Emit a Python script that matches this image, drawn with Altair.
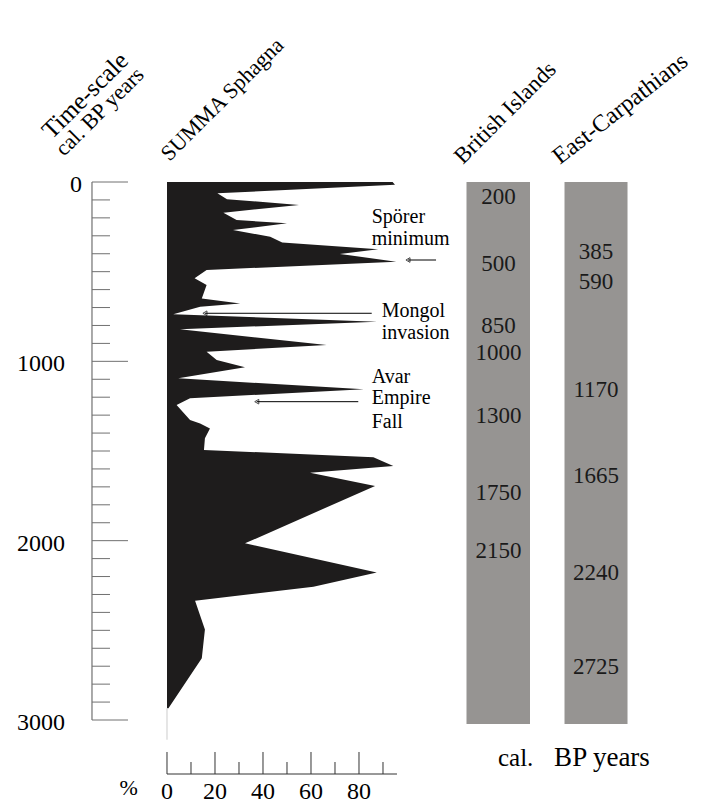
import altair as alt
import pandas as pd

# ---------------- data ----------------
sphagna_years = [0, 15, 63, 96, 128, 171, 212, 230, 268, 305, 338, 375, 401, 444, 491,
                 537, 574, 649, 677, 695, 738, 779, 821, 909, 946, 993, 1033, 1095,
                 1156, 1206, 1243, 1327, 1346, 1374, 1429, 1494, 1535, 1584, 1621,
                 1695, 2015, 2177, 2257, 2335, 2495, 2656, 2935]
sphagna_pct = [94, 95, 21, 25, 55, 23.5, 29, 50, 27.5, 43, 48, 88, 72, 95.5, 16.5,
               11.5, 16.5, 14.5, 30.5, 13.8, 2.6, 87.5, 5.4, 66.5, 16.5, 20.7, 32.5, 4.7,
               82, 9.6, 4, 9.6, 13.8, 17.9, 15.8, 15.4, 86, 94.3, 59.6,
               86.7, 32.5, 87.4, 61, 11.7, 15.8, 14.5, 0.6]

time_major = [0, 1000, 2000, 3000]
time_minor = [100, 200, 300, 400, 500, 600, 700, 800, 900,
              1100, 1200, 1300, 1400, 1500, 1600, 1700, 1800, 1900,
              2100, 2200, 2300, 2400, 2500, 2600, 2700, 2800, 2900]
time_labels = ["0", "1000", "2000", "3000"]

pct_major = [0, 20, 40, 60, 80]
pct_minor = [10, 30, 50, 70, 90]
pct_labels = ["0", "20", "40", "60", "80"]

british_labels = ["200", "500", "850", "1000", "1300", "1750", "2150"]
carpathian_labels = ["385", "590", "1170", "1665", "2240", "2725"]

headers = ["Time-scale", "cal. BP  years", "SUMMA Sphagna", "British Islands", "East-Carpathians"]
events = [["Spörer", "minimum"], ["Mongol", "invasion"], ["Avar", "Empire", "Fall"]]

# ---------------- layout ----------------
X0, X1 = -66.25, 220.4167
Y0, Y1 = -970.26, 3462.8
FONT = "Liberation Serif"
INK = "#1e1c1c"
GRAY = "#969492"

xs = alt.Scale(domain=[X0, X1], nice=False, zero=False)
ys = alt.Scale(domain=[Y0, Y1], nice=False, zero=False, reverse=True)


def X(f):
    return alt.X(f, type="quantitative", scale=xs, axis=None)


def Y(f):
    return alt.Y(f, type="quantitative", scale=ys, axis=None)


# area
area_df = pd.DataFrame({"year": sphagna_years, "pct": sphagna_pct})
area = alt.Chart(area_df).mark_area(orient="horizontal", color=INK, interpolate="linear").encode(
    y=Y("year"), x=X("pct"), x2=alt.datum(0)
)
tail = alt.Chart(pd.DataFrame({"x": [0], "y": [sphagna_years[-1]], "y2": [3110]})).mark_rule(
    color="#cccccc", strokeWidth=1
).encode(x=X("x"), y=Y("y"), y2="y2")

# time axis
AX = -31.25
axis_line = alt.Chart(pd.DataFrame({"x": [AX], "y": [0], "y2": [3000]})).mark_rule(
    color="#555555", strokeWidth=1
).encode(x=X("x"), y=Y("y"), y2="y2")
tick_df = pd.DataFrame(
    {"y": time_major + time_minor,
     "x": [AX] * (len(time_major) + len(time_minor)),
     "x2": [-16.25] * len(time_major) + [-23.75] * len(time_minor)}
)
ticks = alt.Chart(tick_df).mark_rule(color="#707070", strokeWidth=1).encode(
    y=Y("y"), x=X("x"), x2="x2"
)
tl_df = pd.DataFrame({"y": time_major, "t": time_labels,
                      "x": [-35.4 if s == "0" else -42.5 for s in time_labels]})
tlabels = alt.Chart(tl_df).mark_text(
    font=FONT, fontSize=24, align="right", baseline="middle", color="black", dy=3
).encode(y=Y("y"), x=X("x"), text="t")

# percent axis
PY = 3301.1
paxis = alt.Chart(pd.DataFrame({"x": [0], "x2": [95.83], "y": [PY]})).mark_rule(
    color="#333333", strokeWidth=1
).encode(x=X("x"), x2="x2", y=Y("y"))
ptick_df = pd.DataFrame(
    {"x": pct_major + pct_minor,
     "y": [3178.4] * len(pct_major) + [3234.2] * len(pct_minor),
     "y2": [PY] * (len(pct_major) + len(pct_minor))}
)
pticks = alt.Chart(ptick_df).mark_rule(color="#333333", strokeWidth=1).encode(
    x=X("x"), y=Y("y"), y2="y2"
)
plabels = alt.Chart(pd.DataFrame({"x": pct_major, "t": pct_labels, "y": [3441] * 5})).mark_text(
    font=FONT, fontSize=24, align="center", baseline="alphabetic", color="black"
).encode(x=X("x"), y=Y("y"), text="t")
percent = alt.Chart(pd.DataFrame({"x": [-16], "y": [3420], "t": ["%"]})).mark_text(
    font=FONT, fontSize=22, align="center", baseline="alphabetic", color="black"
).encode(x=X("x"), y=Y("y"), text="t")

# grey columns
bars_df = pd.DataFrame({"x": [124.79, 165.63], "x2": [151.25, 191.88], "y": [0, 0], "y2": [3022, 3022]})
bars = alt.Chart(bars_df).mark_rect(color=GRAY).encode(x=X("x"), x2="x2", y=Y("y"), y2="y2")

bl_df = pd.DataFrame({
    "t": british_labels + carpathian_labels,
    "x": [138.1] * len(british_labels) + [178.75] * len(carpathian_labels),
    "y": [84, 457, 803, 953, 1305, 1734, 2058, 390, 558, 1160, 1639, 2180, 2705],
})
blabels = alt.Chart(bl_df).mark_text(
    font=FONT, fontSize=23, align="center", baseline="middle", color="#1a1a1a"
).encode(x=X("x"), y=Y("y"), text="t")

bottom_df = pd.DataFrame({"t": ["cal.", "BP years"], "x": [137.9, 161.3],
                          "y": [3254, 3254], "fs": [25, 27]})
bottom = alt.Chart(bottom_df).mark_text(
    font=FONT, align="left", baseline="alphabetic", color="black"
).encode(x=X("x"), y=Y("y"), text="t", size=alt.Size("fs:Q", scale=None, legend=None))

# headers
hd_df = pd.DataFrame({"t": headers,
                      "x": [-48, -42.9, 1.0, 123.3, 163.8],
                      "y": [-234, -139, -111.5, -94.8, -94.8],
                      "fs": [25, 22, 22, 23, 24],
                      "ang": [315, 315, 315, 315, 322]})
hdr = alt.Chart(hd_df).mark_text(
    font=FONT, align="left", baseline="alphabetic", color="black"
).encode(x=X("x"), y=Y("y"), text="t",
         size=alt.Size("fs:Q", scale=None, legend=None),
         angle=alt.Angle("ang:Q", scale=None))

# event annotations
ev_rows = []
ev_pos = [(85.3, [229, 351]), (89.5, [753, 873]), (85.3, [1119, 1238, 1372])]
for lines, (ex, eys) in zip(events, ev_pos):
    for line, ey in zip(lines, eys):
        ev_rows.append({"t": line, "x": ex, "y": ey})
evtext = alt.Chart(pd.DataFrame(ev_rows)).mark_text(
    font=FONT, fontSize=20, align="left", baseline="alphabetic", color="black"
).encode(x=X("x"), y=Y("y"), text="t")

arrows_df = pd.DataFrame({"x": [100.4, 15.8, 37.4], "x2": [112.1, 85.3, 79.7], "y": [435, 732, 1225]})
arrows = alt.Chart(arrows_df).mark_rule(color="black", strokeWidth=1).encode(
    x=X("x"), x2="x2", y=Y("y")
)
heads = alt.Chart(arrows_df).mark_point(
    shape="triangle-left", size=22, filled=False, color="black", strokeWidth=1
).encode(x=X("x"), y=Y("y"))

chart = alt.layer(
    bars, area, tail, axis_line, ticks, tlabels, paxis, pticks, plabels, percent,
    blabels, bottom, hdr, evtext, arrows, heads
).properties(
    width=688, height=795, padding=0, autosize=alt.AutoSizeParams(type="none")
).configure_view(stroke=None)

chart.save("out.html", embed_options={"renderer": "svg", "actions": False})
